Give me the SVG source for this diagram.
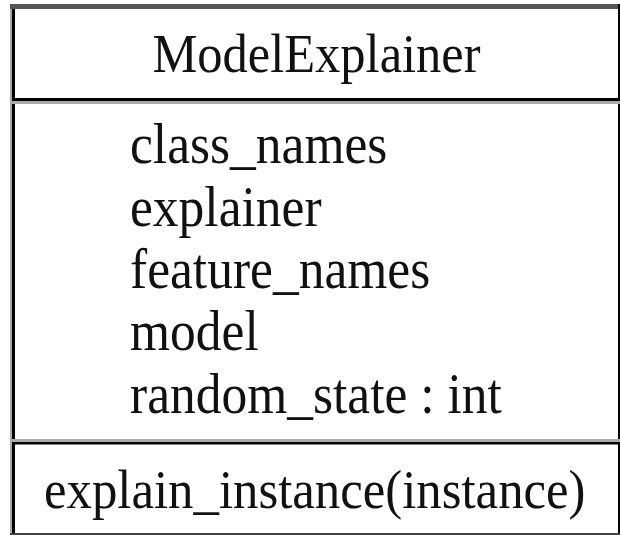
<svg xmlns="http://www.w3.org/2000/svg" width="620" height="535" viewBox="0 0 620 535">
<style>
.t{font-family:"Liberation Serif","Times New Roman",serif;fill:#111;font-size:51.5px}
.ttl{font-size:50.5px;text-anchor:middle}
.m{font-size:50.8px}
</style>
<rect width="620" height="535" fill="#fff"/>
<g id="ModelExplainer">
<rect x="10" y="4" width="2" height="531" fill="#aaa"/>
<rect x="12" y="4" width="3" height="531" fill="#000"/>
<rect x="10" y="4" width="610" height="5" fill="#555"/>
<rect x="618" y="4" width="2" height="531" fill="#000"/>
<rect x="10" y="533" width="610" height="2" fill="#444"/>
<rect x="12" y="98" width="608" height="3" fill="#000"/>
<rect x="12" y="101" width="608" height="3" fill="#aaa"/>
<rect x="12" y="439" width="608" height="3" fill="#aaa"/>
<rect x="12" y="442" width="608" height="2.5" fill="#000"/>
<text class="t ttl" transform="translate(316.5,72) scale(1,1.1)">ModelExplainer</text>
<text class="t" transform="translate(130,163) scale(1,1.1)">class_names</text>
<text class="t" transform="translate(130,226) scale(1,1.1)">explainer</text>
<text class="t" transform="translate(130,288) scale(1,1.1)">feature_names</text>
<text class="t" transform="translate(130,350) scale(1,1.1)">model</text>
<text class="t" transform="translate(130,413) scale(1,1.1)">random_state : int</text>
<text class="t m" transform="translate(44,508) scale(1,1.1)">explain_instance(instance)</text>
</g>
</svg>
